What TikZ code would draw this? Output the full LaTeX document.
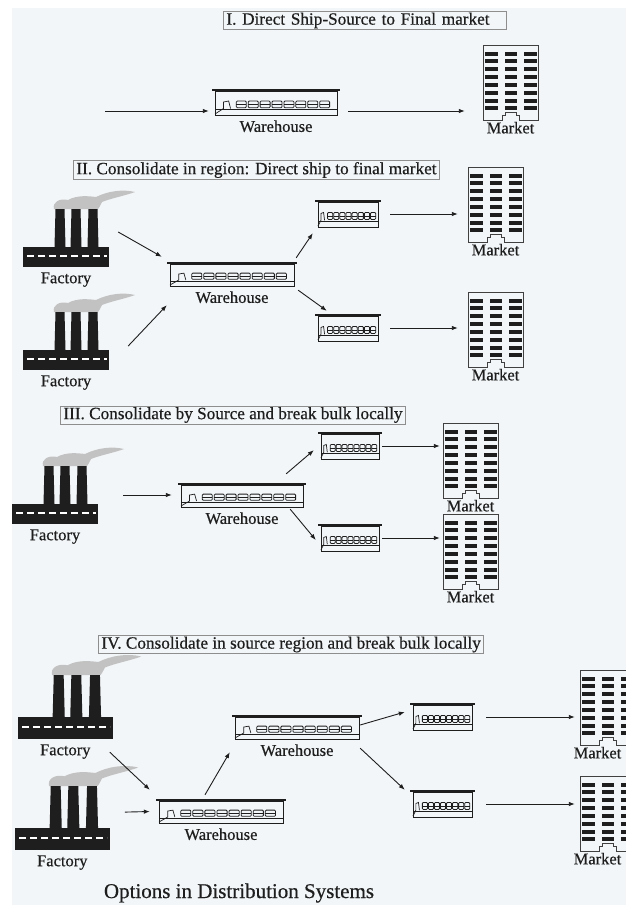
\documentclass[tikz,border=0pt]{standalone}
\usepackage{fontspec}
\setmainfont{Liberation Serif}[FakeBold=0.5]
\usetikzlibrary{arrows.meta,positioning,calc}
\definecolor{bgpaper}{HTML}{F2F6F8}
\definecolor{inkdark}{HTML}{1E1E1E}
\definecolor{framegrey}{HTML}{8E8E8E}
\definecolor{smokegrey}{HTML}{C2C2C2}
\newcommand{\lblfont}{\fontsize{16.5}{18}\selectfont}
\newcommand{\ttlfont}{\fontsize{17.2}{19}\selectfont}
\newcommand{\capfont}{\fontsize{21}{24}\selectfont}
\tikzset{
  ttl/.style  = {draw=framegrey, line width=.8pt, fill=bgpaper, text=inkdark, font=\ttlfont,
                 inner xsep=3pt, inner ysep=1.2pt, anchor=west},
  lbl/.style  = {font=\lblfont, text=inkdark, inner sep=1pt},
  flow/.style = {-{Latex[length=6pt,width=4.5pt]}, line width=.9pt, draw=inkdark},
  % factory: origin at top left of the base, #1 = size factor
  pics/factory/.style={code={
    \begin{scope}[scale=#1]
      \fill[smokegrey] (31,-38) .. controls (29,-45) and (37,-49) .. (45,-47)
        .. controls (54,-52) and (65,-51) .. (73,-50) .. controls (85,-56) and (100,-58) .. (112,-55)
        .. controls (101,-51) and (89,-49) .. (79,-45) .. controls (77,-41) and (76,-39) .. (75,-38) -- cycle;
      \fill[inkdark] (0,0) rectangle (86,20);
      \foreach \c in {37,53,70}
        \fill[inkdark] (\c-5.5,0) -- (\c-4.5,-38) -- (\c+4.5,-38) -- (\c+5.5,0) -- cycle;
      \draw[white, line width=1.5pt, dash pattern=on 7pt off 4pt] (4,9) -- (84,9);
    \end{scope}
    \node[inner sep=0pt, minimum width={86*#1}, minimum height={58*#1}] (-box) at ({43*#1},{-9*#1}) {};
  }},
  % warehouse: origin at left end of the roof, #1 x #2 = width x height
  pics/warehouse/.style 2 args={code={
    \draw[inkdark, line width=.7pt] (3,1) rectangle (#1-3,#2);
    \draw[inkdark, line width=.7pt] (3,.78*#2) -- (#1-3,.78*#2);
    \foreach \k in {0,...,7} {
      \draw[inkdark, line width=.8pt, rounded corners=1pt]
        ({(.19+.093*\k)*#1},.44*#2) rectangle ++({.078*#1},.27*#2);
      \draw[inkdark, line width=.7pt] ({(.19+.093*\k)*#1},.575*#2) -- ++({.078*#1},0);
    }
    \draw[inkdark, line width=.7pt] (3,#2-1) -- ({.09*#1},.74*#2) -- ({.09*#1},.48*#2)
      -- ({.13*#1},.44*#2) -- ({.145*#1},.74*#2);
    \draw[inkdark, line width=2.4pt] (0,0) -- (#1,0);
    \node[inner sep=0pt, minimum width=#1, minimum height=#2] (-box) at (#1/2,#2/2) {};
  }},
  % market block: origin at top left corner
  pics/market/.style={code={
    \draw[inkdark!85, line width=.8pt] (0,75) -- (0,0) -- (55,0) -- (55,75) -- (36,75) -- (36,70)
      -- (33,70) -- (33,67) -- (22,67) -- (22,70) -- (19,70) -- (19,75) -- cycle;
    \foreach \r in {0,...,7}
      \foreach \c in {2,21.5,41}
        \fill[inkdark] (\c,6.5+\r*7.85) rectangle ++(12.5,4);
    \node[inner sep=0pt, minimum width=55, minimum height=75] (-box) at (27.5,37.5) {};
  }},
}

\begin{document}
\begin{tikzpicture}[x=1pt, y=-1pt]
  \useasboundingbox (0,0) rectangle (626,905);
  \clip (0,0) rectangle (626,905);
  \fill[bgpaper] (12,8) rectangle (626,905);

  % I
  \node[ttl, text width=277pt, align=left] (tI) at (223,20.5) {I. Direct Ship-Source to Final market};
  \pic (wI) at (212,90) {warehouse={128}{25}};
  \pic (mI) at (483,45) {market};
  \node[lbl, below=4pt of wI-box] (wI-lbl) {Warehouse};
  \node[lbl, below=.5pt of mI-box] (mI-lbl) {Market};
  \coordinate (srcI) at (105,111);
  \draw[flow, shorten >=3pt] (srcI) -- (srcI -| wI-box.west);
  \draw[flow, shorten <=8pt, shorten >=18pt] (srcI -| wI-box.east) -- (srcI -| mI-box.west);

  % II
  \node[ttl] (tII) at (73,170) {II. Consolidate in region: Direct ship to final market};
  \pic (fIIa) at (23,247) {factory=1};
  \pic (fIIb) at (23,350) {factory=1};
  \pic (wII) at (167,263) {warehouse={130}{23}};
  \pic (sIIa) at (315,201) {warehouse={66}{26}};
  \pic (sIIb) at (315,315) {warehouse={66}{26}};
  \pic (mIIa) at (468,167) {market};
  \pic (mIIb) at (468,292) {market};
  \node[lbl, below=4pt of fIIa-box] (fIIa-lbl) {Factory};
  \node[lbl, below=4pt of fIIb-box] (fIIb-lbl) {Factory};
  \node[lbl, below=4pt of wII-box] (wII-lbl) {Warehouse};
  \node[lbl, below=.5pt of mIIa-box] (mIIa-lbl) {Market};
  \node[lbl, below=.5pt of mIIb-box] (mIIb-lbl) {Market};
  \draw[flow] ($(fIIa-box.east)+(9,-6)$) -- ($(wII-box.north west)+(-5,-6)$);
  \draw[flow] ($(fIIb-box.east)+(19,5)$) -- ($(wII-box.south west)+(0,19)$);
  \draw[flow] ($(wII-box.north east)+(-1,-5)$) -- ($(sIIa-box.south west)+(-2,6)$);
  \draw[flow] ($(wII-box.south east)+(1,4)$) -- ($(sIIb-box.north west)+(12,-4)$);
  \draw[flow, shorten <=9pt, shorten >=10pt] (sIIa-box.east) -- (sIIa-box.east -| mIIa-box.west);
  \draw[flow, shorten <=9pt, shorten >=10pt] (sIIb-box.east) -- (sIIb-box.east -| mIIb-box.west);

  % III
  \node[ttl] (tIII) at (60,415) {III. Consolidate by Source and break bulk locally};
  \pic (fIII) at (12,504) {factory=1};
  \pic (wIII) at (178,484) {warehouse={128}{23}};
  \pic (sIIIa) at (318,433) {warehouse={64}{26}};
  \pic (sIIIb) at (318,525) {warehouse={64}{26}};
  \pic (mIIIa) at (443,423) {market};
  \pic (mIIIb) at (443,514) {market};
  \node[lbl, below=4pt of fIII-box] (fIII-lbl) {Factory};
  \node[lbl, below=4pt of wIII-box] (wIII-lbl) {Warehouse};
  \node[lbl, below=.5pt of mIIIa-box] (mIIIa-lbl) {Market};
  \node[lbl, below=.5pt of mIIIb-box] (mIIIb-lbl) {Market};
  \draw[flow, shorten <=25pt, shorten >=6pt] (fIII-box.east) -- (fIII-box.east -| wIII-box.west);
  \draw[flow] ($(wIII-box.north east)+(-20,-10)$) -- ($(sIIIa-box.south west)+(-4,-9)$);
  \draw[flow] ($(wIII-box.south east)+(-16,2)$) -- ($(sIIIb-box.west)+(-2,2)$);
  \draw[flow, shorten >=3pt] (sIIIa-box.east) -- (sIIIa-box.east -| mIIIa-box.west);
  \draw[flow, shorten >=3pt] (sIIIb-box.east) -- (sIIIb-box.east -| mIIIb-box.west);

  % IV
  \node[ttl] (tIV) at (98,644.5) {IV. Consolidate in source region and break bulk locally};
  \pic (fIVa) at (18,717) {factory=1.1};
  \pic (fIVb) at (15,828) {factory=1.1};
  \pic (wIVa) at (232,716) {warehouse={130}{23}};
  \pic (wIVb) at (156,800) {warehouse={130}{23}};
  \pic (sIVa) at (410,704) {warehouse={65}{26}};
  \pic (sIVb) at (410,791) {warehouse={65}{26}};
  \pic (mIVa) at (580,670) {market};
  \pic (mIVb) at (580,776) {market};
  \node[lbl, below=4pt of fIVa-box] (fIVa-lbl) {Factory};
  \node[lbl, below=4pt of fIVb-box] (fIVb-lbl) {Factory};
  \node[lbl, below=4pt of wIVa-box] (wIVa-lbl) {Warehouse};
  \node[lbl, below=4pt of wIVb-box] (wIVb-lbl) {Warehouse};
  % labels kept inside the right edge
  \node[lbl, below=.5pt of mIVa-box, xshift=-10pt] (mIVa-lbl) {Market};
  \node[lbl, below=.5pt of mIVb-box, xshift=-10pt] (mIVb-lbl) {Market};
  \draw[flow] ($(fIVa-box.south east)+(-3,13)$) -- ($(wIVb-box.north west)+(-6,-10)$);
  \draw[flow] ($(fIVb-box.east)+(15,-6)$) -- ($(wIVb-box.west)+(-6,0)$);
  \draw[flow] ($(wIVb-box.north)+(-16,-5)$) -- ($(wIVa-box.south west)+(-2,13)$);
  \draw[flow] ($(wIVa-box.east)+(-2,-2.5)$) -- ($(sIVa-box.west)+(-5,-5)$);
  \draw[flow] ($(wIVa-box.south east)+(-2,9)$) -- ($(sIVb-box.north west)+(-5,-1)$);
  \draw[flow, shorten <=11pt, shorten >=5pt] (sIVa-box.east) -- (sIVa-box.east -| mIVa-box.west);
  \draw[flow, shorten <=11pt, shorten >=5pt] (sIVb-box.east) -- (sIVb-box.east -| mIVb-box.west);

  \node[font=\capfont, text=inkdark] (caption) at (239,893) {Options in Distribution Systems};
\end{tikzpicture}
\end{document}
